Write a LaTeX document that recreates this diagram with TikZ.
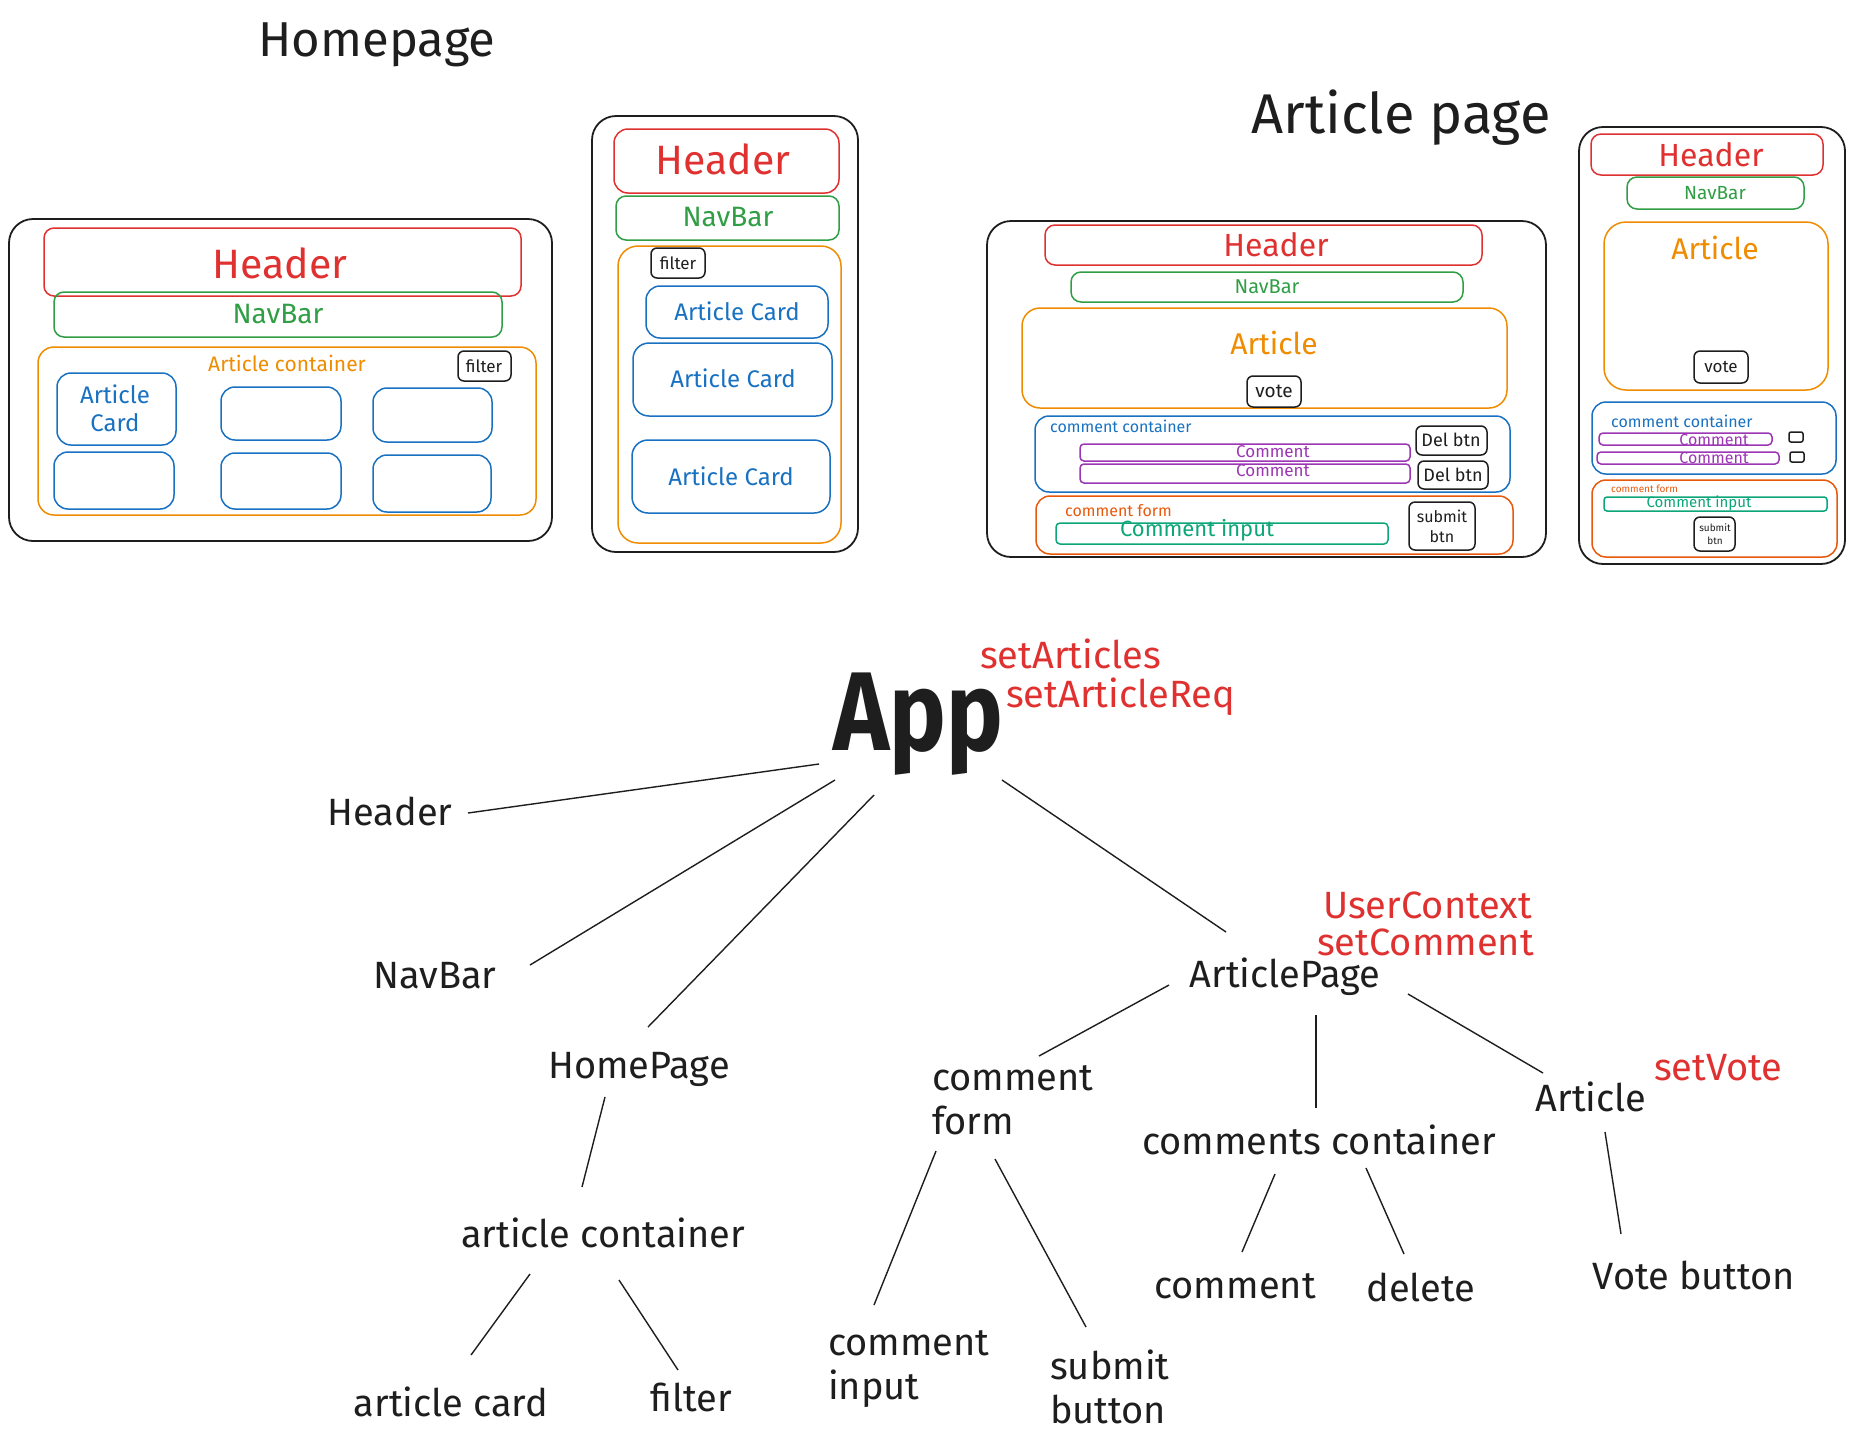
\documentclass[tikz,border=0pt]{standalone}
\usepackage{fontspec}
\setmainfont{Fira Sans}
\definecolor{xred}{HTML}{E03131}
\definecolor{xgreen}{HTML}{2F9E44}
\definecolor{xorange}{HTML}{F08C00}
\definecolor{xblue}{HTML}{1971C2}
\definecolor{xpurple}{HTML}{9C36B5}
\definecolor{xorred}{HTML}{E8590C}
\definecolor{xteal}{HTML}{0CA678}
\definecolor{xblack}{HTML}{1E1E1E}
\newcommand\fsz[1]{\fontsize{#1}{#1}\selectfont}
\tikzset{
  frame/.style={draw=xblack, line width=1.8pt, rounded corners=24pt},
  box/.style={draw=#1, line width=1.5pt, rounded corners=10pt},
  sbox/.style={draw=xblack, line width=1.5pt, rounded corners=6pt},
  txt/.style={inner sep=0pt, text=xblack},
  tree/.style={txt, font=\fontsize{38}{44}\selectfont},
  note/.style={inner sep=0pt, text=xred, font=\fsz{38}, anchor=west},
  tline/.style={draw=xblack, line width=1.4pt},
}
\begin{document}
\begin{tikzpicture}[x=1pt,y=-1pt]
\useasboundingbox[fill=white] (0,0) rectangle (1855,1441);

% ---------- titles
\node[txt, font=\fsz{49}] (t1) at (377,45) {Homepage};
\node[txt, font=\fsz{56}] (t2) at (1401,118) {Article page};

% ---------- desktop homepage
\draw[frame] (9,219) rectangle (552,541);
\draw[box=xred] (44,228) rectangle (521,296);
\node[txt, text=xred, font=\fsz{41}] (dhH) at (280,263) {Header};
\draw[box=xgreen] (54,292) rectangle (502,337);
\node[txt, text=xgreen, font=\fsz{28}] (dhN) at (278,314) {NavBar};
\draw[box=xorange, rounded corners=16pt] (38,347) rectangle (536,515);
\node[txt, text=xorange, font=\fsz{21}] (dhA) at (287,363) {Article container};
\draw[sbox] (458,351) rectangle (511,381);
\node[txt, font=\fsz{17}] (dhF) at (484,366) {filter};
\draw[box=xblue, rounded corners=14pt] (57,373) rectangle (176,445);
\node[txt, text=xblue, font=\fontsize{24}{28}\selectfont, align=center] (dhC) at (115,408) {Article\\Card};
\draw[box=xblue, rounded corners=14pt] (221,387) rectangle (341,440);
\draw[box=xblue, rounded corners=14pt] (373,388) rectangle (492,442);
\draw[box=xblue, rounded corners=14pt] (54,452) rectangle (174,509);
\draw[box=xblue, rounded corners=14pt] (221,453) rectangle (341,509);
\draw[box=xblue, rounded corners=14pt] (373,455) rectangle (491,512);

% ---------- mobile homepage
\draw[frame] (592,116) rectangle (858,552);
\draw[box=xred, rounded corners=14pt] (614,129) rectangle (839,193);
\node[txt, text=xred, font=\fsz{41}] (mhH) at (723,159) {Header};
\draw[box=xgreen] (616,196) rectangle (839,240);
\node[txt, text=xgreen, font=\fsz{28}] (mhN) at (728,217) {NavBar};
\draw[box=xorange, rounded corners=20pt] (618,246) rectangle (841,543);
\draw[sbox] (651,248) rectangle (705,278);
\node[txt, font=\fsz{17}] (mhF) at (678,263) {filter};
\draw[box=xblue, rounded corners=14pt] (646,286) rectangle (828,338);
\node[txt, text=xblue, font=\fsz{24}] (mhC1) at (737,311) {Article Card};
\draw[box=xblue, rounded corners=16pt] (633,343) rectangle (832,416);
\node[txt, text=xblue, font=\fsz{24}] (mhC2) at (733,378) {Article Card};
\draw[box=xblue, rounded corners=16pt] (632,440) rectangle (830,513);
\node[txt, text=xblue, font=\fsz{24}] (mhC3) at (731,476) {Article Card};

% ---------- desktop article page
\draw[frame] (987,221) rectangle (1546,557);
\draw[box=xred] (1045,225) rectangle (1482,265);
\node[txt, text=xred, font=\fsz{32}] (daH) at (1276,245) {Header};
\draw[box=xgreen] (1071,272) rectangle (1463,302);
\node[txt, text=xgreen, font=\fsz{20}] (daN) at (1267,287) {NavBar};
\draw[box=xorange, rounded corners=18pt] (1022,308) rectangle (1507,408);
\node[txt, text=xorange, font=\fsz{30}] (daA) at (1274,343) {Article};
\draw[sbox] (1247,376) rectangle (1301,407);
\node[txt, font=\fsz{19}] (daV) at (1274,391) {vote};
\draw[box=xblue, rounded corners=14pt] (1035,416) rectangle (1510,492);
\node[txt, text=xblue, font=\fsz{16}, anchor=west] (daCC) at (1050,426) {comment container};
\draw[box=xpurple, rounded corners=4pt] (1080,444) rectangle (1410,461);
\node[txt, text=xpurple, font=\fsz{17}] (daC1) at (1273,452) {Comment};
\draw[box=xpurple, rounded corners=4pt] (1080,464) rectangle (1410,483);
\node[txt, text=xpurple, font=\fsz{17}] (daC2) at (1273,471) {Comment};
\draw[sbox] (1416,426) rectangle (1487,455);
\node[txt, font=\fsz{18}] (daD1) at (1451,440) {Del btn};
\draw[sbox] (1418,461) rectangle (1488,489);
\node[txt, font=\fsz{18}] (daD2) at (1453,475) {Del btn};
\draw[box=xorred, rounded corners=14pt] (1036,496) rectangle (1513,554);
\node[txt, text=xorred, font=\fsz{16}, anchor=west] (daCF) at (1065,511) {comment form};
\draw[box=xteal, rounded corners=4pt] (1056,523) rectangle (1388,544);
\node[txt, text=xteal, font=\fsz{22}] (daCI) at (1197,530) {Comment input};
\draw[sbox] (1409,502) rectangle (1475,550);
\node[txt, font=\fontsize{16}{20}\selectfont, align=center] (daS) at (1442,526) {submit\\btn};

% ---------- mobile article page
\draw[frame] (1579,127) rectangle (1845,564);
\draw[box=xred] (1591,134) rectangle (1823,175);
\node[txt, text=xred, font=\fsz{32}] (maH) at (1711,155) {Header};
\draw[box=xgreen] (1627,177) rectangle (1804,209);
\node[txt, text=xgreen, font=\fsz{19}] (maN) at (1715,193) {NavBar};
\draw[box=xorange, rounded corners=22pt] (1604,222) rectangle (1828,390);
\node[txt, text=xorange, font=\fsz{30}] (maA) at (1715,248) {Article};
\draw[sbox] (1694,351) rectangle (1748,383);
\node[txt, font=\fsz{17}] (maV) at (1721,367) {vote};
\draw[box=xblue, rounded corners=14pt] (1592,402) rectangle (1836,474);
\node[txt, text=xblue, font=\fsz{16}, anchor=west] (maCC) at (1611,421) {comment container};
\draw[box=xpurple, rounded corners=4pt] (1599,433) rectangle (1772,445);
\node[txt, text=xpurple, font=\fsz{16}] (maC1) at (1714,440) {Comment};
\draw[box=xpurple, rounded corners=4pt] (1597,452) rectangle (1779,464);
\node[txt, text=xpurple, font=\fsz{16}] (maC2) at (1714,458) {Comment};
\draw[sbox, rounded corners=2pt] (1789,432) rectangle (1803,442);
\draw[sbox, rounded corners=2pt] (1790,452) rectangle (1804,462);
\draw[box=xorred, rounded corners=14pt] (1592,480) rectangle (1837,557);
\node[txt, text=xorred, font=\fsz{10}, anchor=west] (maCF) at (1611,489) {comment form};
\draw[box=xteal, rounded corners=3pt] (1604,497) rectangle (1827,511);
\node[txt, text=xteal, font=\fsz{15}] (maCI) at (1699,503) {Comment input};
\draw[sbox] (1694,517) rectangle (1735,551);
\node[txt, font=\fontsize{10}{13}\selectfont, align=center] (maS) at (1715,534) {submit\\btn};

% ---------- tree
\node[txt, font=\fsz{112}\bfseries] (app) at (918,724) {\scalebox{0.85}[1]{App}};
\node[note] (n1) at (980,654) {setArticles};
\node[note] (n2) at (1006,697) {setArticleReq};
\node[tree] (header) at (390,811) {Header};
\node[tree] (navbar) at (435,976) {NavBar};
\node[tree] (homepage) at (639,1069) {HomePage};
\node[tree] (acont) at (603,1233) {article container};
\node[tree] (acard) at (451,1402) {article card};
\node[tree] (filter) at (691,1397) {filter};
\node[tree] (artpage) at (1285,977) {ArticlePage};
\node[note] (n3) at (1323,905) {UserContext};
\node[note] (n4) at (1317,942) {setComment};
\node[tree, anchor=west, align=left] (cform) at (932,1100) {comment\\form};
\node[tree, anchor=west, align=left] (cinput) at (828,1369) {comment\\input};
\node[tree, anchor=west, align=left] (sbutton) at (1050,1387) {submit\\button};
\node[tree] (ccont) at (1319,1140) {comments container};
\node[tree] (article) at (1591,1097) {Article};
\node[note] (n5) at (1654,1068) {setVote};
\node[tree] (comment) at (1235,1286) {comment};
\node[tree] (delete) at (1421,1287) {delete};
\node[tree] (vbutton) at (1694,1275) {Vote button};

\draw[tline] ([shift={(-99,40)}]app.center) -- ([shift={(78,2)}]header.center);
\draw[tline] ([shift={(-83,56)}]app.center) -- ([shift={(95,-11)}]navbar.center);
\draw[tline] ([shift={(-44,71)}]app.center) -- ([shift={(9,-42)}]homepage.center);
\draw[tline] ([shift={(84,56)}]app.center) -- ([shift={(-59,-45)}]artpage.center);
\draw[tline] ([shift={(-34,28)}]homepage.center) -- ([shift={(-21,-46)}]acont.center);
\draw[tline] ([shift={(-73,41)}]acont.center) -- ([shift={(20,-47)}]acard.center);
\draw[tline] ([shift={(16,47)}]acont.center) -- ([shift={(-13,-27)}]filter.center);
\draw[tline] ([shift={(-116,8)}]artpage.center) -- ([shift={(107,-44)}]cform.west);
\draw[tline] ([shift={(31,38)}]artpage.center) -- ([shift={(-3,-32)}]ccont.center);
\draw[tline] ([shift={(123,17)}]artpage.center) -- ([shift={(-48,-24)}]article.center);
\draw[tline] ([shift={(4,51)}]cform.west) -- ([shift={(46,-64)}]cinput.west);
\draw[tline] ([shift={(63,59)}]cform.west) -- ([shift={(36,-60)}]sbutton.west);
\draw[tline] ([shift={(-44,34)}]ccont.center) -- ([shift={(7,-34)}]comment.center);
\draw[tline] ([shift={(47,28)}]ccont.center) -- ([shift={(-17,-33)}]delete.center);
\draw[tline] ([shift={(14,35)}]article.center) -- ([shift={(-73,-41)}]vbutton.center);
\end{tikzpicture}
\end{document}
